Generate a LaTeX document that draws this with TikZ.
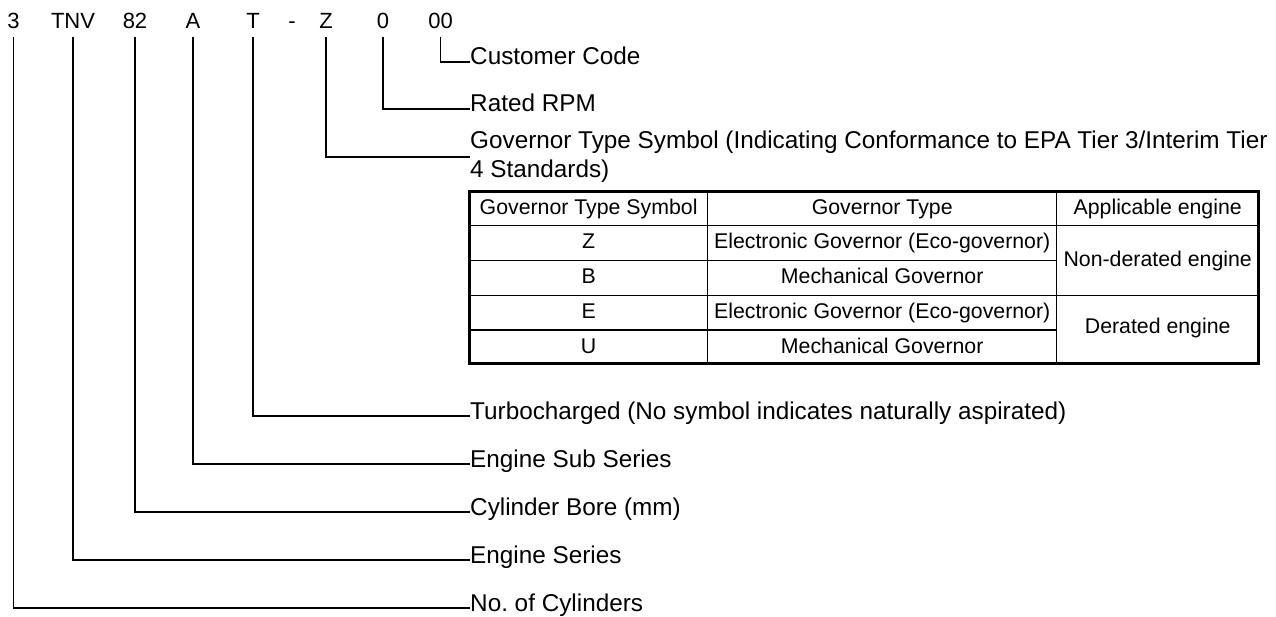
\documentclass[tikz,border=0pt]{standalone}
\usepackage{fontspec}
\setmainfont{Liberation Sans}
\frenchspacing
\begin{document}
\begin{tikzpicture}[x=1pt,y=-1pt,
  code/.style={inner sep=0pt, anchor=base, font=\fontsize{22}{26}\selectfont},
  lbl/.style={inner sep=0pt, anchor=base west, font=\fontsize{24.3}{29}\selectfont},
  cell/.style={inner sep=0pt, anchor=base, font=\fontsize{21.3}{25}\selectfont},
  conn/.style={line width=1.3pt},
  frame/.style={line width=3pt},
  rulex/.style={line width=1.3pt}]
\useasboundingbox (0,0) rectangle (1276,617);
\coordinate (top) at (0,37);
% code characters
\node[code] (c3) at (13.5,29) {3};
\node[code] (ctnv) at (73,29) {TNV};
\node[code] (c82) at (135,29) {82};
\node[code] (cA) at (193,29) {A};
\node[code] (cT) at (253,29) {T};
\node[code] (cdash) at (292,29) {-};
\node[code] (cZ) at (326,29) {Z};
\node[code] (c0) at (383,29) {0};
\node[code] (c00) at (440.5,29) {00};
% labels
\node[lbl] (lcust) at (470,65) {Customer Code};
\node[lbl] (lrpm) at (470,112) {Rated RPM};
\node[lbl, anchor=west, align=left] (lgov) at (470,157) {Governor Type Symbol (Indicating Conformance to EPA Tier 3/Interim Tier\\4 Standards)};
\node[lbl] (lturbo) at (470,419) {Turbocharged (No symbol indicates naturally aspirated)};
\node[lbl] (lsub) at (470,467) {Engine Sub Series};
\node[lbl] (lbore) at (470,515) {Cylinder Bore (mm)};
\node[lbl] (lser) at (470,563) {Engine Series};
\node[lbl] (lcyl) at (470,611) {No. of Cylinders};
% connectors
\draw[conn] (c00 |- top) |- ([yshift=3pt]lcust.base west);
\draw[conn] (c0 |- top) |- ([yshift=3pt]lrpm.base west);
\draw[conn] (cZ |- top) |- (lgov.west);
\draw[conn] (cT |- top) |- ([yshift=3pt]lturbo.base west);
\draw[conn] (cA |- top) |- ([yshift=3pt]lsub.base west);
\draw[conn] (c82 |- top) |- ([yshift=3pt]lbore.base west);
\draw[conn] (ctnv |- top) |- ([yshift=3pt]lser.base west);
\draw[conn] (c3 |- top) |- ([yshift=3pt]lcyl.base west);
% table grid
\draw[rulex] (707.7,191.7) -- (707.7,363.5);
\draw[rulex] (1056.7,191.7) -- (1056.7,363.5);
\draw[rulex] (469.5,225.7) -- (1258.7,225.7);
\draw[rulex] (469.5,260.3) -- (1056.7,260.3);
\draw[rulex] (469.5,295.7) -- (1258.7,295.7);
\draw[rulex] (469.5,330) -- (1056.7,330);
\draw[frame] (469.5,191.7) rectangle (1258.7,363.5);
% table text
\node[cell] (h1) at (588.6,215) {Governor Type Symbol};
\node[cell] (h2) at (882.2,215) {Governor Type};
\node[cell] (h3) at (1157.7,215) {Applicable engine};
\node[cell] (s1) at (588.6,249) {Z};
\node[cell] (s2) at (588.6,284) {B};
\node[cell] (s3) at (588.6,319) {E};
\node[cell] (s4) at (588.6,353) {U};
\node[cell] (g1) at (882.2,249) {Electronic Governor (Eco-governor)};
\node[cell] (g2) at (882.2,284) {Mechanical Governor};
\node[cell] (g3) at (882.2,319) {Electronic Governor (Eco-governor)};
\node[cell] (g4) at (882.2,353) {Mechanical Governor};
\node[cell] (a1) at (1157.7,267) {Non-derated engine};
\node[cell] (a2) at (1157.7,334) {Derated engine};
\end{tikzpicture}
\end{document}
